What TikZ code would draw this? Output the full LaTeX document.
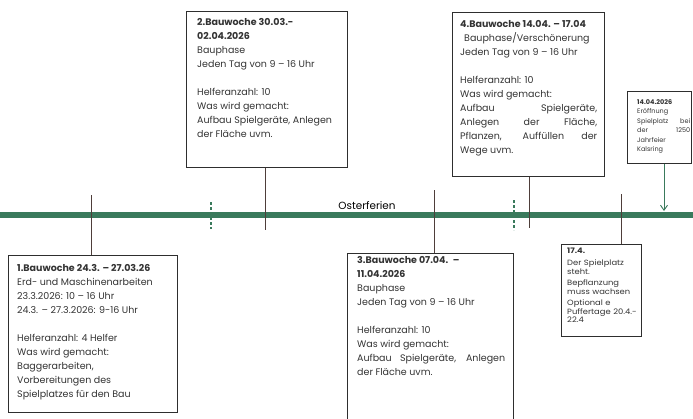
\documentclass[tikz,border=0pt]{standalone}
\usepackage{fontspec}
\setmainfont{Poppins}
\usetikzlibrary{arrows.meta, positioning}

\definecolor{tlgreen}{HTML}{3A7A5C}
\definecolor{linebrown}{HTML}{4E3E3A}
\definecolor{boxgray}{HTML}{2E2E2E}
\definecolor{txtgray}{HTML}{333333}

\tikzset{
    week/.style={draw=boxgray, line width=1.3pt, inner sep=0pt, anchor=north west},
    info/.style={anchor=north west, inner sep=0pt, align=justify, text=txtgray,
                 font=\fontsize{9.5}{14}\selectfont},
    note/.style={anchor=north west, inner sep=0pt, align=left, text=txtgray,
                 font=\fontsize{7.6}{6.8}\selectfont\addfontfeature{FakeStretch=1.1}},
    tick/.style={linebrown, line width=0.9pt},
    holiday/.style={tlgreen, line width=1.4pt, dash pattern=on 3pt off 2pt},
    opening/.style={tlgreen, line width=0.9pt, -{Straight Barb[length=5pt,width=7pt]}},
}

\begin{document}
\begin{tikzpicture}[x=1pt, y=-1pt]
    \useasboundingbox (0,0) rectangle (693,418);
    \clip (0,0) rectangle (693,418);

    % timeline
    \coordinate (tlA) at (0,215);
    \coordinate (tlB) at (693,215);
    \draw[tlgreen, line width=6pt] (tlA) -- (tlB);
    \node[anchor=base, font=\fontsize{10.4}{12}\selectfont] (ferien) at (367,209) {Osterferien};

    % boxes
    \node[week, minimum width=169, minimum height=157] (b1) at (8,255)   {};
    \node[week, minimum width=161, minimum height=156] (b2) at (186,11)  {};
    \node[week, minimum width=166, minimum height=180] (b3) at (347,253) {};
    \node[week, minimum width=152, minimum height=164] (b4) at (452,12)  {};
    \node[week, minimum width=80,  minimum height=92 ] (b5) at (561,244) {};
    \node[week, minimum width=64,  minimum height=72 ] (b6) at (627,91)  {};

    \node[info, text width=156] (t1) at (17,264) {%
        \textbf{1.Bauwoche 24.3. – 27.03.26}\\
        Erd- und Maschinenarbeiten\\
        23.3.2026: 10 – 16 Uhr\\
        24.3. – 27.3.2026: 9-16 Uhr\\[14pt]
        Helferanzahl: 4 Helfer\\
        Was wird gemacht:\\
        Baggerarbeiten,\\
        Vorbereitungen des\\
        Spielplatzes für den Bau};
    \node[info, text width=146] (t2) at (197,18) {%
        \textbf{2.Bauwoche 30.03.-}\\
        \textbf{02.04.2026}\\
        Bauphase\\
        Jeden Tag von 9 – 16 Uhr\\[14pt]
        Helferanzahl: 10\\
        Was wird gemacht:\\
        Aufbau Spielgeräte, Anlegen\\
        der Fläche uvm.};
    \node[info, text width=148] (t3) at (357,256) {%
        \textbf{3.Bauwoche 07.04. \ –}\\
        \textbf{11.04.2026}\\
        Bauphase\\
        Jeden Tag von 9 – 16 Uhr\\[14pt]
        Helferanzahl: 10\\
        Was wird gemacht:\\
        Aufbau Spielgeräte, Anlegen\linebreak
        der Fläche uvm.};
    \node[info, text width=137] (t4) at (460,20) {%
        \textbf{4.Bauwoche 14.04. – 17.04}\\
        \hspace*{4pt}Bauphase/Verschönerung\\
        Jeden Tag von 9 – 16 Uhr\\[14pt]
        Helferanzahl: 10\\
        Was wird gemacht:\\
        Aufbau Spielgeräte,\linebreak
        Anlegen der Fläche,\linebreak
        Pflanzen, Auffüllen der\linebreak
        Wege uvm.};
    \node[note, text width=72] (t5) at (567,248) {%
        \textbf{17.4.}\\[5pt]
        Der Spielplatz\\
        steht.\\[5pt]
        Bepflanzung\\
        muss wachsen\\[4pt]
        Optional e\\
        Puffertage 20.4.-\\
        22.4};
    \node[info, text width=53, font=\fontsize{6.5}{9.5}\selectfont] (t6) at (637,99) {%
        \textbf{14.04.2026}\\
        Eröffnung\\
        Spielplatz bei\linebreak
        der 1250\linebreak
        Jahrfeier\\
        Kalsring};

    % connectors to the timeline
    \coordinate (k1) at (91,195);
    \coordinate (k2) at (265,230);
    \coordinate (k3) at (434,190);
    \coordinate (k4) at (529,228);
    \coordinate (k5) at (621,194);
    \coordinate (k6) at (664,211);
    \draw[tick] (k1) -- (k1 |- b1.north);
    \draw[tick] (b2.south -| k2) -- (k2);
    \draw[tick] (k3) -- (k3 |- b3.north);
    \draw[tick] (b4.south -| k4) -- (k4);
    \draw[tick] (k5) -- (k5 |- b5.north);
    \draw[opening] (b6.south -| k6) -- (k6);

    % Osterferien start and end
    \coordinate (f1a) at (211,202);
    \coordinate (f1b) at (211,229);
    \coordinate (f2a) at (514,200);
    \coordinate (f2b) at (514,230);
    \draw[holiday] (f1a) -- (f1b);
    \draw[holiday] (f2a) -- (f2b);
\end{tikzpicture}
\end{document}
